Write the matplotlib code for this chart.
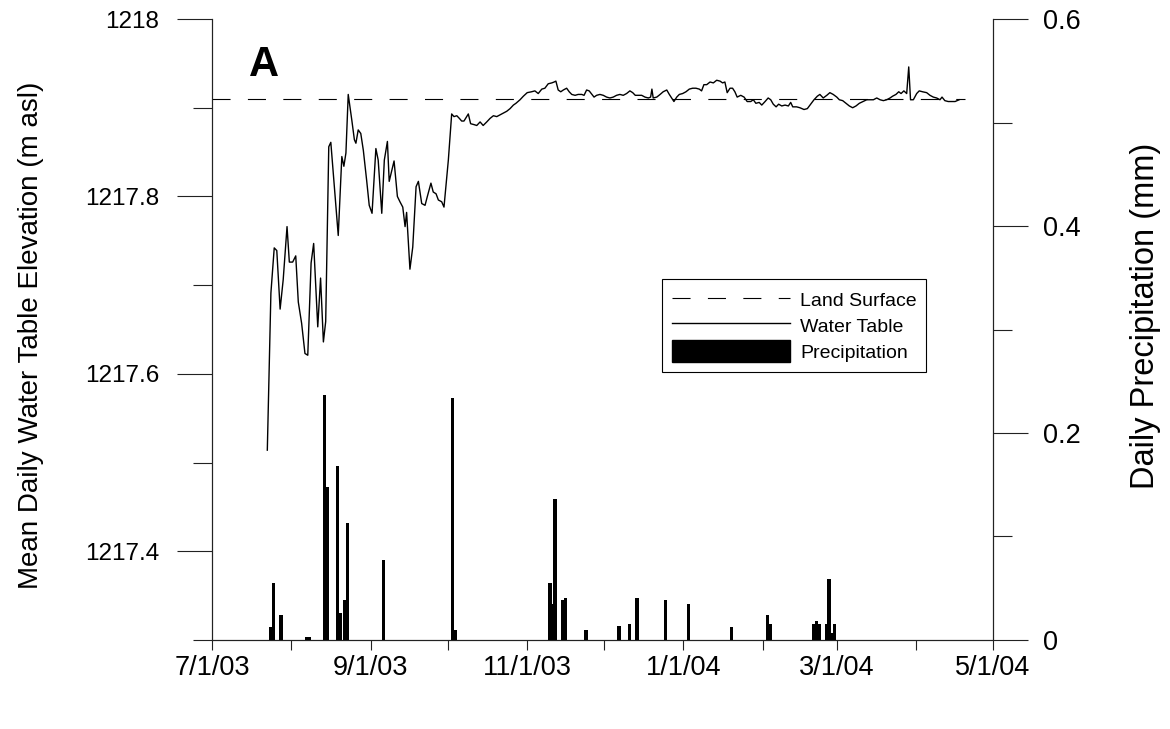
import numpy as np
import matplotlib
matplotlib.use('Agg')
import matplotlib.pyplot as plt
import matplotlib.dates as mdates
from matplotlib.ticker import MultipleLocator, FixedLocator, FuncFormatter
from matplotlib.lines import Line2D
from matplotlib.patches import Patch
from datetime import datetime

plt.rcParams['font.family'] = ['Liberation Sans', 'DejaVu Sans']
plt.rcParams['lines.scale_dashes'] = False

# water table: days since 7/1/03 and mean daily elevation (m asl)
wt_day = [21.6, 23.0, 24.3, 25.3, 26.6, 27.8, 29.3, 30.2, 31.5, 32.7,
          33.7, 35.0, 36.3, 37.4, 38.7, 39.7, 41.3, 42.4, 43.5, 44.4,
          45.6, 46.4, 47.6, 49.3, 50.7, 51.5, 52.3, 53.2, 54.6, 55.6,
          56.2, 57.1, 58.1, 59.1, 60.4, 61.4, 62.5, 64.0, 64.9, 66.3,
          67.3, 68.5, 69.2, 71.1, 72.4, 73.4, 74.5, 75.4, 76.0, 77.3,
          78.4, 79.7, 80.6, 81.9, 83.2, 84.1, 85.5, 86.4, 87.5, 88.4,
          89.7, 90.6, 92.3, 93.6, 94.5, 95.6, 96.6, 97.5, 98.4, 100.1,
          101.0, 102.3, 103.4, 104.7, 105.9, 107.3, 108.6, 109.9, 111.2, 112.5,
          113.8, 115.1, 116.4, 117.7, 118.7, 120.3, 121.6, 123.1, 124.8, 126.1,
          127.4, 128.8, 130.0, 131.3, 132.7, 133.6, 134.3, 135.2, 136.2, 137.2,
          138.5, 139.5, 140.5, 141.8, 143.0, 144.4, 145.3, 146.3, 147.3, 149.2,
          150.2, 151.5, 152.8, 154.1, 155.4, 156.7, 158.0, 159.3, 160.6, 161.9,
          163.2, 164.3, 165.3, 166.6, 167.8, 169.1, 170.4, 171.3, 171.8, 172.3,
          173.7, 175.0, 176.2, 177.6, 178.6, 179.5, 180.4, 181.5, 182.5, 183.8,
          185.1, 186.4, 187.7, 189.0, 190.3, 191.2, 192.1, 193.2, 194.5, 195.8,
          197.1, 198.4, 199.4, 200.3, 201.2, 202.3, 203.3, 204.2, 205.1, 206.5,
          207.8, 209.0, 210.4, 211.4, 212.4, 213.7, 214.7, 216.0, 217.2, 218.2,
          219.2, 220.3, 221.3, 222.5, 223.8, 225.1, 226.0, 226.8, 228.3, 229.6,
          231.2, 232.5, 233.8, 235.1, 236.4, 237.4, 238.7, 240.1, 241.3, 242.6,
          244.0, 245.0, 246.3, 247.6, 248.9, 250.2, 251.5, 252.8, 254.3, 255.7,
          257.0, 258.3, 259.6, 260.9, 262.2, 263.5, 264.8, 265.8, 267.1, 268.2,
          269.1, 270.2, 271.3, 272.1, 272.8, 273.9, 275.2, 276.2, 277.5, 279.1,
          280.4, 281.7, 283.0, 284.3, 285.1, 286.2, 287.5, 288.9, 290.2, 291.0,
          291.8]
wt_elev = [1217.514, 1217.691, 1217.742, 1217.739, 1217.673, 1217.706, 1217.766, 1217.726, 1217.726, 1217.733,
           1217.681, 1217.657, 1217.623, 1217.621, 1217.725, 1217.747, 1217.653, 1217.708, 1217.636, 1217.659,
           1217.856, 1217.861, 1217.818, 1217.756, 1217.845, 1217.834, 1217.849, 1217.915, 1217.886, 1217.864,
           1217.860, 1217.875, 1217.871, 1217.852, 1217.818, 1217.790, 1217.781, 1217.854, 1217.841, 1217.781,
           1217.841, 1217.862, 1217.817, 1217.840, 1217.800, 1217.794, 1217.788, 1217.766, 1217.782, 1217.718,
           1217.743, 1217.811, 1217.817, 1217.792, 1217.790, 1217.800, 1217.815, 1217.805, 1217.803, 1217.796,
           1217.794, 1217.788, 1217.841, 1217.893, 1217.890, 1217.891, 1217.888, 1217.885, 1217.885, 1217.893,
           1217.882, 1217.881, 1217.880, 1217.884, 1217.880, 1217.884, 1217.888, 1217.891, 1217.890, 1217.892,
           1217.894, 1217.896, 1217.899, 1217.903, 1217.905, 1217.909, 1217.913, 1217.917, 1217.918, 1217.919,
           1217.916, 1217.921, 1217.922, 1217.927, 1217.928, 1217.929, 1217.930, 1217.920, 1217.918, 1217.920,
           1217.922, 1217.918, 1217.915, 1217.914, 1217.915, 1217.915, 1217.914, 1217.920, 1217.919, 1217.912,
           1217.914, 1217.915, 1217.914, 1217.912, 1217.911, 1217.912, 1217.914, 1217.915, 1217.914, 1217.916,
           1217.919, 1217.917, 1217.914, 1217.914, 1217.914, 1217.912, 1217.911, 1217.912, 1217.921, 1217.911,
           1217.912, 1217.915, 1217.918, 1217.920, 1217.915, 1217.911, 1217.907, 1217.912, 1217.915, 1217.916,
           1217.918, 1217.921, 1217.922, 1217.922, 1217.921, 1217.919, 1217.926, 1217.926, 1217.929, 1217.928,
           1217.931, 1217.930, 1217.928, 1217.929, 1217.917, 1217.922, 1217.922, 1217.918, 1217.912, 1217.914,
           1217.912, 1217.907, 1217.907, 1217.909, 1217.905, 1217.906, 1217.903, 1217.907, 1217.911, 1217.909,
           1217.904, 1217.901, 1217.904, 1217.902, 1217.903, 1217.902, 1217.906, 1217.901, 1217.901, 1217.900,
           1217.898, 1217.899, 1217.904, 1217.909, 1217.913, 1217.915, 1217.911, 1217.914, 1217.917, 1217.915,
           1217.912, 1217.909, 1217.908, 1217.905, 1217.902, 1217.900, 1217.902, 1217.905, 1217.907, 1217.909,
           1217.909, 1217.909, 1217.911, 1217.909, 1217.908, 1217.909, 1217.911, 1217.913, 1217.915, 1217.918,
           1217.916, 1217.919, 1217.916, 1217.946, 1217.909, 1217.909, 1217.916, 1217.919, 1217.918, 1217.917,
           1217.914, 1217.912, 1217.911, 1217.909, 1217.912, 1217.908, 1217.907, 1217.907, 1217.907, 1217.908,
           1217.909]

land_surface = 1217.91
land_dates = ['2003-07-01', '2004-04-20']

precip_dates = ['2003-07-24', '2003-07-25', '2003-07-28', '2003-08-07', '2003-08-08',
                '2003-08-14', '2003-08-15', '2003-08-19', '2003-08-20', '2003-08-22',
                '2003-08-23', '2003-09-06', '2003-10-03', '2003-10-04', '2003-11-10',
                '2003-11-11', '2003-11-12', '2003-11-15', '2003-11-16', '2003-11-24',
                '2003-12-07', '2003-12-11', '2003-12-14', '2003-12-25', '2004-01-03',
                '2004-01-20', '2004-02-03', '2004-02-04', '2004-02-21', '2004-02-22',
                '2004-02-23', '2004-02-26', '2004-02-27', '2004-02-28', '2004-02-29']
precip = [0.013, 0.055, 0.024, 0.003, 0.003,
          0.237, 0.148, 0.168, 0.026, 0.039,
          0.113, 0.077, 0.234, 0.010, 0.055,
          0.035, 0.136, 0.039, 0.041, 0.010,
          0.0135, 0.0155, 0.041, 0.039, 0.0345,
          0.013, 0.024, 0.0155, 0.0155, 0.018,
          0.0155, 0.0155, 0.0586, 0.0065, 0.0155]

start = mdates.date2num(datetime(2003, 7, 1))
wt_x = start + np.array(wt_day)
land_x = [mdates.date2num(datetime.strptime(d, '%Y-%m-%d')) for d in land_dates]
precip_x = [mdates.date2num(datetime.strptime(d, '%Y-%m-%d')) for d in precip_dates]

dash = (0, (13, 12.5))
axcol = '#222222'

fig = plt.figure(figsize=(11.7, 7.29), dpi=100)
ax = fig.add_axes([0.1812, 0.1221, 0.6675, 0.8518])
ax2 = ax.twinx()

ax.plot(land_x, [land_surface, land_surface], color='black', lw=0.8, linestyle=dash)
ax.plot(wt_x, wt_elev, color='black', lw=1.0)
ax2.bar(precip_x, precip, width=1.3, color='black', linewidth=0)

ax.set_xlim(start, mdates.date2num(datetime(2004, 5, 1)))
ax.set_ylim(1217.3, 1218)
ax2.set_ylim(0, 0.6)

def date_fmt(v, pos):
    d = mdates.num2date(v)
    return '{}/{}/{}'.format(d.month, d.day, d.strftime('%y'))

ax.xaxis.set_major_locator(mdates.MonthLocator(bymonth=[1, 3, 5, 7, 9, 11]))
ax.xaxis.set_minor_locator(mdates.MonthLocator())
ax.xaxis.set_major_formatter(FuncFormatter(date_fmt))

ax.yaxis.set_major_locator(MultipleLocator(0.2))
ax.yaxis.set_minor_locator(FixedLocator([1217.3, 1217.5, 1217.7, 1217.9]))
ax.yaxis.set_major_formatter(FuncFormatter(lambda v, p: '%g' % round(v, 1)))
ax2.yaxis.set_major_locator(MultipleLocator(0.2))
ax2.yaxis.set_minor_locator(FixedLocator([0.1, 0.3, 0.5]))
ax2.yaxis.set_major_formatter(FuncFormatter(lambda v, p: '%g' % round(v, 1)))

ax.tick_params(axis='x', which='both', direction='out', length=7, width=0.8,
               color=axcol, labelsize=19.5, pad=4)
ax.tick_params(axis='y', which='major', direction='out', length=25, width=0.8,
               color=axcol, labelsize=17.5, pad=13)
ax.tick_params(axis='y', which='minor', direction='out', length=14, width=0.8, color=axcol)
ax2.tick_params(axis='y', which='major', direction='out', length=25, width=0.8,
                color=axcol, labelsize=19.5, pad=11)
ax2.tick_params(axis='y', which='minor', direction='out', length=14, width=0.8, color=axcol)

for a in (ax, ax2):
    a.spines['top'].set_visible(False)
    for s in ('left', 'right', 'bottom'):
        a.spines[s].set_color(axcol)
        a.spines[s].set_linewidth(0.8)

ax.set_ylabel('Mean Daily Water Table Elevation (m asl)', fontsize=20)
ax.yaxis.set_label_coords(-0.215, 0.49)
ax2.set_ylabel('Daily Precipitation (mm)', fontsize=23.5)
ax2.yaxis.set_label_coords(1.176, 0.522)

ax.text(0.047, 0.958, 'A', transform=ax.transAxes, fontsize=30,
        fontweight='bold', ha='left', va='top')

handles = [Line2D([], [], color='black', lw=0.8, linestyle=dash),
           Line2D([], [], color='black', lw=1.0),
           Patch(facecolor='black', edgecolor='black')]
leg = ax2.legend(handles, ['Land Surface', 'Water Table', 'Precipitation'],
                 loc='upper left', bbox_to_anchor=(0.576, 0.581), borderaxespad=0,
                 fontsize=14, handlelength=6.1, handleheight=1.36, handletextpad=0.5,
                 labelspacing=0.19, borderpad=0.5, frameon=True, fancybox=False,
                 edgecolor='black', framealpha=1)
leg.get_frame().set_linewidth(0.8)

plt.savefig('out.png', dpi=100)
